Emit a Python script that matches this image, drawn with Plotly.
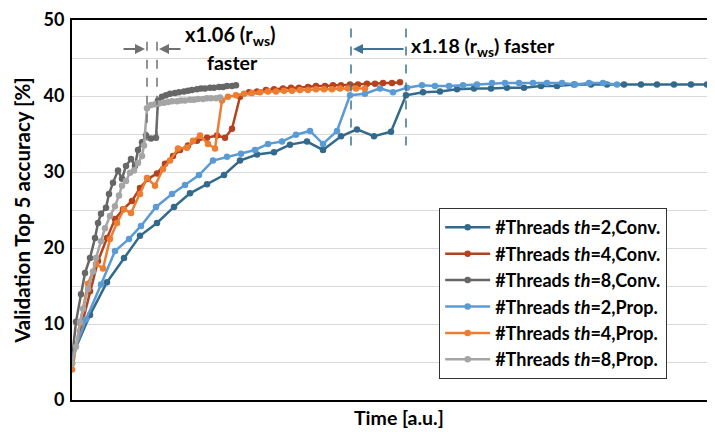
import plotly.graph_objects as go

# ---------------- data (time in a.u., accuracy in %) ----------------
x_conv2 = [0, 18, 35, 52, 68, 85, 102, 118, 135, 152, 168, 185, 202, 218, 235, 251, 269, 285, 302, 319,
           334, 351, 368, 385, 402, 419, 435, 452, 469, 485, 502, 519, 535, 552, 569, 585, 602, 619, 635]
y_conv2 = [5.7, 11.2, 15.5, 18.7, 21.6, 23.3, 25.4, 27.2, 28.4, 29.6, 31.5, 32.3, 32.6, 33.6, 34.0, 32.9, 34.7, 35.6, 34.7, 35.3,
           40.1, 40.5, 40.6, 40.9, 41.0, 41.0, 41.1, 41.1, 41.3, 41.3, 41.5, 41.5, 41.5, 41.5, 41.5, 41.5, 41.5, 41.5, 41.5]

x_conv4 = [0, 8, 18, 26, 35, 43, 51, 60, 68, 76, 85, 93, 101, 108, 116, 125, 135, 145, 153, 160, 168,
           177, 185, 194, 202, 211, 219, 227, 236, 244, 253, 261, 269, 278, 286, 295, 303, 311, 320, 328]
y_conv4 = [4.8, 9.0, 14.3, 18.3, 21.3, 23.8, 25.1, 26.2, 27.9, 29.1, 29.8, 31.1, 32.1, 32.9, 33.5, 34.1, 34.5, 34.8, 34.5, 35.7, 39.9,
           40.5, 40.6, 40.8, 40.9, 41.0, 41.1, 41.1, 41.2, 41.3, 41.3, 41.4, 41.4, 41.5, 41.5, 41.6, 41.6, 41.7, 41.7, 41.8]

x_conv8 = [0, 4, 9, 13, 18, 23, 26, 29, 34, 37, 41, 46, 50, 54, 59, 63, 66, 70, 74, 79, 84, 86, 90,
           94, 98, 103, 107, 112, 116, 120, 125, 129, 133, 138, 142, 147, 151, 155, 160, 164]
y_conv8 = [5.4, 10.3, 13.9, 16.7, 18.7, 21.3, 23.3, 24.5, 25.3, 27.1, 28.6, 30.2, 29.1, 30.8, 31.7, 30.8, 32.9, 33.9, 34.8, 34.4, 34.5, 39.4, 39.9,
           40.1, 40.3, 40.4, 40.5, 40.6, 40.7, 40.8, 40.9, 41.0, 41.0, 41.1, 41.1, 41.2, 41.2, 41.3, 41.3, 41.4]

x_prop2 = [0, 14, 29, 43, 57, 69, 84, 100, 113, 127, 141, 155, 169, 183, 196, 210, 224, 238, 251, 265,
           278, 293, 308, 321, 335, 350, 363, 377, 391, 405, 420, 433, 447, 461, 475, 490, 503, 517, 531, 545]
y_prop2 = [5.7, 10.6, 15.2, 19.6, 21.2, 22.9, 25.4, 27.1, 28.3, 29.6, 31.5, 32.0, 32.4, 32.9, 33.7, 34.0, 34.9, 35.4, 33.7, 35.4,
           40.1, 40.3, 41.0, 40.5, 41.1, 41.4, 41.3, 41.3, 41.4, 41.5, 41.7, 41.7, 41.7, 41.7, 41.7, 41.7, 41.5, 41.7, 41.7, 41.5]

x_prop4 = [0, 8, 16, 24, 31, 38, 45, 52, 59, 68, 75, 83, 91, 98, 106, 115, 121, 128, 136, 143, 150, 156,
           164, 172, 180, 188, 196, 204, 212, 220, 228, 236, 244, 252, 260, 268, 276, 284, 293]
y_prop4 = [4.0, 10.1, 15.3, 17.9, 17.3, 21.2, 23.3, 25.1, 24.6, 27.1, 29.2, 28.2, 30.4, 31.5, 33.1, 33.2, 34.1, 34.8, 33.7, 33.1, 39.4, 39.9,
           40.1, 40.3, 40.4, 40.5, 40.6, 40.6, 40.7, 40.7, 40.8, 40.8, 40.9, 40.9, 40.9, 41.0, 41.0, 41.0, 41.0]

x_prop8 = [0, 4, 8, 11, 16, 21, 24, 29, 33, 38, 43, 47, 50, 54, 58, 62, 66, 70, 72, 75, 79,
           83, 87, 92, 96, 100, 105, 109, 113, 118, 122, 126, 131, 135, 139, 144, 148]
y_prop8 = [4.8, 7.0, 10.3, 12.0, 14.6, 16.9, 18.7, 20.9, 22.6, 24.2, 25.5, 26.9, 28.2, 28.8, 29.9, 30.2, 31.2, 32.1, 33.5, 38.4, 38.8,
           38.9, 39.0, 39.1, 39.2, 39.3, 39.3, 39.4, 39.4, 39.5, 39.5, 39.6, 39.6, 39.7, 39.7, 39.7, 39.8]

names = ["#Threads <i>th</i>=2,Conv.", "#Threads <i>th</i>=4,Conv.", "#Threads <i>th</i>=8,Conv.",
         "#Threads <i>th</i>=2,Prop.", "#Threads <i>th</i>=4,Prop.", "#Threads <i>th</i>=8,Prop."]
colors = ["#336A8C", "#B5421D", "#666666", "#5B9BD5", "#ED7D31", "#A5A5A5"]
xs = [x_conv2, x_conv4, x_conv8, x_prop2, x_prop4, x_prop8]
ys = [y_conv2, y_conv4, y_conv8, y_prop2, y_prop4, y_prop8]

y_ticks = [0, 10, 20, 30, 40, 50]

FONT = "Lato"

fig = go.Figure()
for n, c, xv, yv in zip(names, colors, xs, ys):
    fig.add_trace(go.Scatter(
        x=xv, y=yv, mode="lines+markers", name="<b>" + n + "</b>",
        line=dict(color=c, width=2.5), marker=dict(color=c, size=6.5),
    ))

# speed-up annotations
gray = "#707070"
blue = "#3F7394"
for xv in (75, 85):
    fig.add_shape(type="line", x0=xv, x1=xv, y0=34.1, y1=47.4, xref="x", yref="y",
                  line=dict(color=gray, width=1.5, dash="dash"))
for xv in (279, 334):
    fig.add_shape(type="line", x0=xv, x1=xv, y0=33.5, y1=50, xref="x", yref="y",
                  line=dict(color=blue, width=1.5, dash="dash"))

fig.add_annotation(x=73, y=46.2, ax=50, ay=46.2, xref="x", yref="y", axref="x", ayref="y",
                   text="", showarrow=True, arrowhead=2, arrowsize=1, arrowwidth=2, arrowcolor=gray)
fig.add_annotation(x=87, y=46.2, ax=110, ay=46.2, xref="x", yref="y", axref="x", ayref="y",
                   text="", showarrow=True, arrowhead=2, arrowsize=1, arrowwidth=2, arrowcolor=gray)
fig.add_annotation(x=281, y=46.2, ax=333, ay=46.2, xref="x", yref="y", axref="x", ayref="y",
                   text="", showarrow=True, arrowhead=2, arrowsize=1, arrowwidth=2, arrowcolor=blue)

fig.add_annotation(x=158, y=47.9, xref="x", yref="y", showarrow=False,
                   text="<b>x1.06 (r<sub>ws</sub>)</b>", font=dict(family=FONT, size=20, color="black"))
fig.add_annotation(x=160, y=44.4, xref="x", yref="y", showarrow=False,
                   text="<b>faster</b>", font=dict(family=FONT, size=19.5, color="black"))
fig.add_annotation(x=337, y=46.4, xref="x", yref="y", showarrow=False, xanchor="left",
                   text="<b>x1.18 (r<sub>ws</sub>) faster</b>", font=dict(family=FONT, size=19.5, color="black"))

# axis titles as paper annotations (fixed positions)
fig.add_annotation(x=-0.078, y=0.5, xref="paper", yref="paper", showarrow=False, textangle=-90,
                   xanchor="center", yanchor="middle",
                   text="<b>Validation Top 5 accuracy [%]</b>", font=dict(family=FONT, size=20.5, color="black"))
fig.add_annotation(x=0.5086, y=-0.047, xref="paper", yref="paper", showarrow=False,
                   xanchor="center", yanchor="middle",
                   text="<b>Time [a.u.]</b>", font=dict(family=FONT, size=19.5, color="black"))

# page body has an 8px margin, so the figure is 8px smaller and margins shifted
fig.update_layout(
    width=707, height=424,
    margin=dict(l=64, r=0, t=12, b=32, autoexpand=False),
    paper_bgcolor="white", plot_bgcolor="white",
    font=dict(family=FONT, size=18, color="black"),
    showlegend=True,
    legend=dict(x=0.571, y=0.505, xanchor="left", yanchor="top",
                bgcolor="white", bordercolor="#333333", borderwidth=1,
                font=dict(family=FONT, size=18, color="black"),
                itemwidth=45, tracegroupgap=0),
    xaxis=dict(range=[0, 643], showticklabels=False, ticks="", showgrid=False, zeroline=False,
               showline=True, linecolor="black", linewidth=2, mirror=True, automargin=False),
    yaxis=dict(range=[0, 50], tickvals=y_ticks, ticktext=["<b>%d</b>" % v for v in y_ticks],
               showgrid=True, gridcolor="#D9D9D9", gridwidth=1, zeroline=False,
               minor=dict(dtick=5, showgrid=True, gridcolor="#D9D9D9", gridwidth=1),
               showline=True, linecolor="black", linewidth=2, ticks="", automargin=False,
               ticklabelstandoff=2,
               tickfont=dict(family=FONT, size=18)),
)

fig.write_html("out.html")
